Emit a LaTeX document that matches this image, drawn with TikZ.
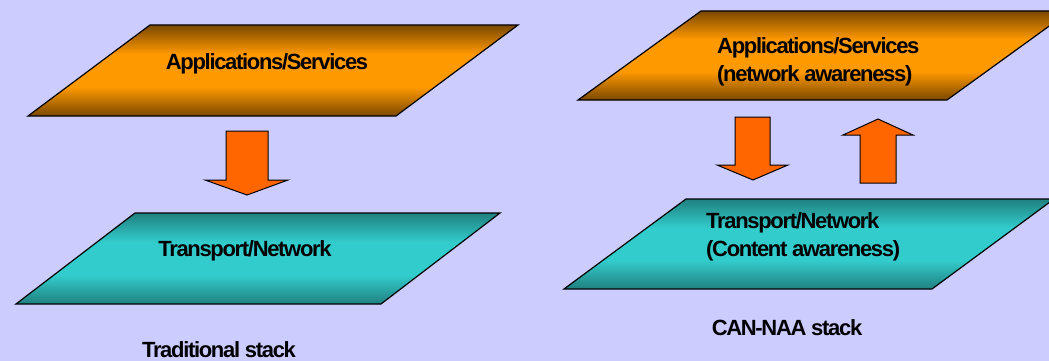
\documentclass[tikz,border=0pt]{standalone}
\usepackage{fontspec}
\setmainfont{Liberation Sans}
\newfontfamily\layerfont[LetterSpace=-6]{Liberation Sans}
\definecolor{Lavender}{HTML}{CCCCFF}
\definecolor{AppDark}{HTML}{7A4800}
\definecolor{AppLight}{HTML}{FF9900}
\definecolor{NetDark}{HTML}{218080}
\definecolor{NetLight}{HTML}{33CCCC}
\definecolor{ArrowFill}{HTML}{FF6600}
\pgfdeclareverticalshading{appband}{100bp}{color(0bp)=(AppDark); color(25bp)=(AppDark); color(41bp)=(AppLight); color(59bp)=(AppLight); color(75bp)=(AppDark); color(100bp)=(AppDark)}
\pgfdeclareverticalshading{netband}{100bp}{color(0bp)=(NetDark); color(25bp)=(NetDark); color(41bp)=(NetLight); color(59bp)=(NetLight); color(75bp)=(NetDark); color(100bp)=(NetDark)}
\tikzset{
  layer/.style={draw=black,line width=1.2pt,line join=miter},
  blockarrow/.style={draw=black,line width=1pt,fill=ArrowFill,line join=miter},
  layertext/.style={font=\layerfont\bfseries\fontsize{22}{28.5}\selectfont,inner sep=0pt}
}

\begin{document}
\begin{tikzpicture}[x=1pt,y=-1pt]
\clip (0,0) rectangle (1049,361);
\fill[Lavender] (0,0) rectangle (1049,361);
% traditional stack
\path[layer,shading=appband] (28,116) -- (150,25) -- (518,25) -- (396,116) -- cycle;
\path[layer,shading=netband] (16,304) -- (135,213) -- (500,213) -- (381,304) -- cycle;
\node[layertext,anchor=base] (appl) at (267,69.5) {Applications/Services};
\node[layertext,anchor=base] (netl) at (245,256) {Transport/Network};
\draw[blockarrow] (226,131) -- (268,131) -- (268,180) -- (288,180) -- (247,195) -- (205,180) -- (226,180) -- cycle;
\node[layertext,anchor=base] (tradl) at (219,357.5) {Traditional stack};
% CAN-NAA stack
\path[layer,shading=appband] (578,100) -- (701,11) -- (1070,11) -- (947,100) -- cycle;
\path[layer,shading=netband] (564,289) -- (686,199) -- (1054,199) -- (932,289) -- cycle;
\node[layertext,anchor=north west,align=left] (appr) at (717,37) {Applications/Services\\(network awareness)};
\node[layertext,anchor=north west,align=left] (netr) at (706,212) {Transport/Network\\(Content awareness)};
\draw[blockarrow] (735,117) -- (770,117) -- (770,165) -- (788,165) -- (753,180) -- (717,165) -- (735,165) -- cycle;
\draw[blockarrow] (860,183) -- (896,183) -- (896,135) -- (913,135) -- (878,119) -- (843,135) -- (860,135) -- cycle;
\node[layertext,anchor=base] (canr) at (787,335) {CAN-NAA stack};
\end{tikzpicture}
\end{document}
